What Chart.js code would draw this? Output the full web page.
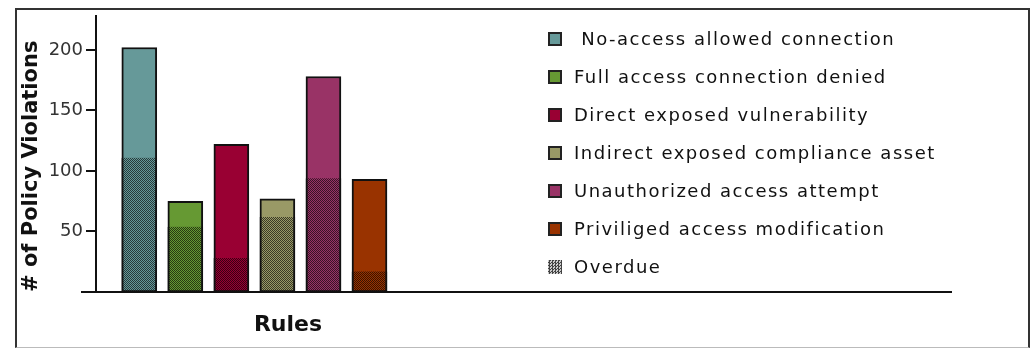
<!DOCTYPE html>
<html>
<head>
<meta charset="utf-8">
<script src="https://cdn.jsdelivr.net/npm/chart.js@4.4.1/dist/chart.umd.min.js"></script>
<style>
  html, body { margin:0; padding:0; background:#fff; }
  #wrap { position:relative; width:1035px; height:350px; overflow:hidden; }
  #frame { position:absolute; left:15px; top:8px; width:1015px; height:340px;
           border-left:2px solid #333; border-top:2px solid #333; border-right:2px solid #333;
           border-bottom:1px solid #bbb; box-sizing:border-box; }
  #c { position:absolute; left:0; top:0; }
  .lg { position:absolute; left:548px; height:14px; font-family:"DejaVu Sans"; font-size:18px;
        letter-spacing:1.5px; color:#111; white-space:pre; line-height:14px; }
  .sw { position:absolute; left:0; top:0; width:14px; height:14px; box-sizing:border-box;
        border:2px solid #222; }
  .tx { position:absolute; left:26px; top:-4px; line-height:22px; }
</style>
</head>
<body>
<div id="wrap">
  <div id="frame"></div>
  <canvas id="c" width="1035" height="350"></canvas>
  <div id="legend"></div>
</div>
<script>
// ---- data ----
const rules = [
  'No-access allowed connection',
  'Full access connection denied',
  'Direct exposed vulnerability',
  'Indirect exposed compliance asset',
  'Unauthorized access attempt',
  'Priviliged access modification'
];
const totalViolations = [202, 75, 122, 77, 178, 93];
const overdueViolations = [111, 54, 28, 62, 94, 17];
const yTickValues = [50, 100, 150, 200];
const overdueLabel = 'Overdue';
const xTitle = 'Rules';
const yTitle = '# of Policy Violations';

// ---- styles ----
const barColors = ['#669999', '#669933', '#990033', '#999966', '#993366', '#993300'];

const canvas = document.getElementById('c');
const ctx = canvas.getContext('2d');

function makePattern(color) {
  const t = document.createElement('canvas');
  t.width = 2; t.height = 2;
  const g = t.getContext('2d');
  g.fillStyle = color; g.fillRect(0, 0, 2, 2);
  g.fillStyle = 'rgba(0,0,0,0.62)';
  g.fillRect(0, 0, 1, 1); g.fillRect(1, 1, 1, 1);
  return ctx.createPattern(t, 'repeat');
}

// legend (HTML)
const legend = document.getElementById('legend');
const rowTop0 = 32, rowStep = 38;
rules.forEach((r, i) => {
  const d = document.createElement('div');
  d.className = 'lg';
  d.style.top = (rowTop0 + i * rowStep) + 'px';
  d.innerHTML = '<div class="sw" style="background:' + barColors[i] + '"></div><div class="tx"></div>';
  d.querySelector('.tx').textContent = (i === 0 ? ' ' : '') + r;
  legend.appendChild(d);
});
{
  const d = document.createElement('div');
  d.className = 'lg';
  d.style.top = (rowTop0 + rules.length * rowStep) + 'px';
  d.innerHTML = '<div class="sw" style="border:none;background:repeating-conic-gradient(#444 0 25%, #ccc 0 50%) 0 0/3px 3px"></div><div class="tx"></div>';
  d.querySelector('.tx').textContent = overdueLabel;
  legend.appendChild(d);
}

const baselinePlugin = {
  id: 'baseline',
  afterDraw(chart) {
    const y = chart.scales.y.getPixelForValue(0);
    const c = chart.ctx;
    c.save();
    c.strokeStyle = '#111';
    c.lineWidth = 2;
    c.beginPath();
    c.moveTo(81, y);
    c.lineTo(952, y);
    c.stroke();
    c.restore();
  }
};

new Chart(canvas, {
  type: 'bar',
  data: {
    datasets: [
      {
        label: 'Total',
        data: totalViolations.map((v, i) => ({ x: i, y: v })),
        backgroundColor: barColors,
        borderColor: '#111',
        borderWidth: 2,
        borderSkipped: false,
        order: 2
      },
      {
        label: overdueLabel,
        data: overdueViolations.map((v, i) => ({ x: i, y: v })),
        backgroundColor: barColors.map(makePattern),
        borderColor: '#111',
        borderWidth: { left: 2, right: 2, bottom: 2, top: 0 },
        borderSkipped: false,
        order: 1
      }
    ]
  },
  plugins: [baselinePlugin],
  options: {
    responsive: false,
    animation: false,
    events: [],
    layout: { padding: { left: 0, right: 555, top: 16, bottom: 0 } },
    datasets: { bar: { grouped: false, barThickness: 35 } },
    plugins: { legend: { display: false }, tooltip: { enabled: false } },
    scales: {
      x: {
        type: 'linear',
        offset: false,
        min: -0.94,
        max: 7.40,
        ticks: { display: false },
        grid: { display: false, offset: false },
        border: { display: false },
        title: {
          display: true, text: xTitle, color: '#111',
          font: { family: 'DejaVu Sans', size: 22, weight: 'bold' },
          padding: { top: 11.8, bottom: 11.8 }
        },
        afterFit(s) { s.height = 58; }
      },
      y: {
        min: 0,
        max: 228,
        afterBuildTicks(s) { s.ticks = yTickValues.map(v => ({ value: v })); },
        ticks: {
          color: '#333',
          font: { family: 'DejaVu Sans', size: 18 },
          padding: 3
        },
        grid: { drawOnChartArea: false, drawTicks: true, tickLength: 10, color: '#111', lineWidth: 2 },
        border: { display: true, color: '#111', width: 2 },
        title: {
          display: true, text: yTitle, color: '#111', align: 'start',
          font: { family: 'DejaVu Sans', size: 21, weight: 'bold' },
          padding: { top: 19, bottom: 0 }
        },
        afterFit(s) { s.width = 96; }
      }
    }
  }
});
</script>
</body>
</html>
